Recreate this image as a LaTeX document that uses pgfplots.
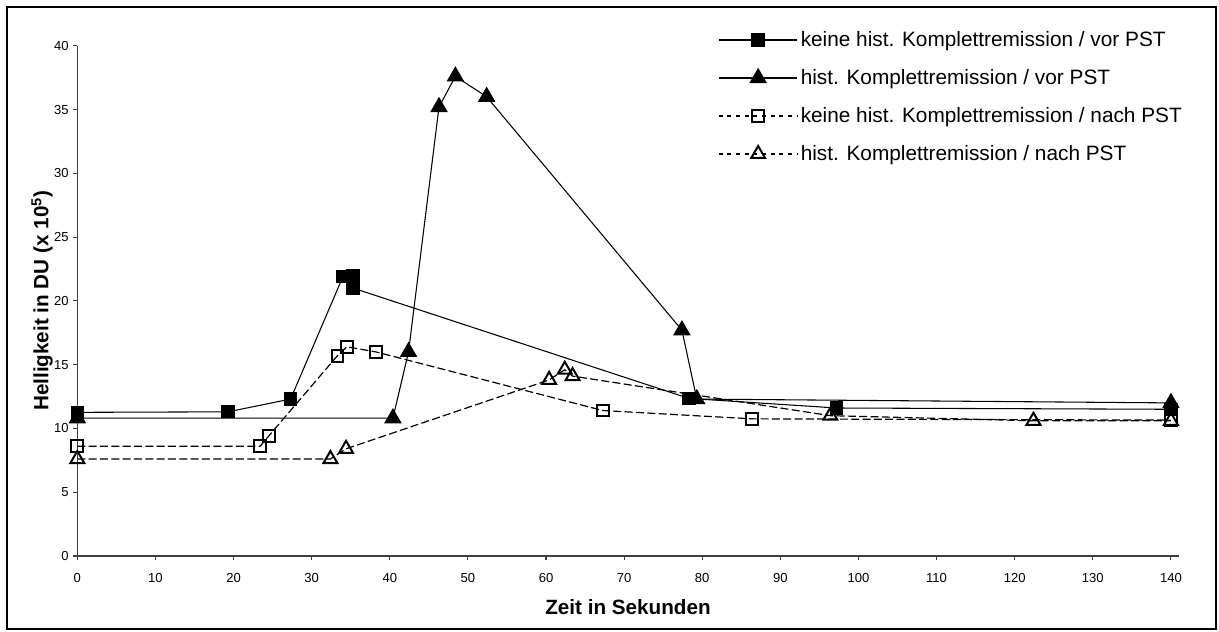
\documentclass[border=0pt]{standalone}
\usepackage{fontspec}
\setmainfont{Liberation Sans}
\usepackage{pgfplots}
\pgfplotsset{compat=1.18}
\begin{document}
\begin{tikzpicture}
\useasboundingbox (-58pt,-57pt) rectangle (856.3pt,417pt);
\draw[line width=1.5pt] (-52.7pt,-54.75pt) rectangle (854pt,411.75pt);
\begin{axis}[
  at={(0pt,0pt)}, anchor=south west,
  scale only axis, width=826.1pt, height=382.7pt,
  xmin=0, xmax=141, ymin=0, ymax=40,
  axis lines*=left,
  axis line style={line width=1pt, black!75},
  xtick={0,10,...,140}, ytick={0,5,...,40},
  tick align=outside, major tick length=3pt,
  tick style={line width=0.8pt, black!75},
  /pgf/number format/assume math mode=true,
  ticklabel style={font=\fontsize{9.8}{11}\selectfont},
  xticklabel style={yshift=-6.5pt},
  label style={font=\bfseries\fontsize{15.5}{18}\selectfont},
  xlabel={Zeit in Sekunden},
  ylabel={Helligkeit in DU (x 10\textsuperscript{5})},
  xlabel style={at={(axis description cs:0.5,0)}, anchor=center, yshift=-38pt},
  ylabel style={at={(axis description cs:0,0.5)}, anchor=center, yshift=26.5pt},
  legend style={at={(rel axis cs:0.578,1.039)}, anchor=north west, draw=none, fill=none,
    font=\fontsize{15.6}{18}\selectfont, row sep=11.7pt, cells={anchor=west}},
  legend cell align=left,
  legend image code/.code={\draw[mark repeat=2,mark phase=2] plot coordinates {(0pt,0pt)(29.5pt,0pt)(59pt,0pt)};},
]
\addplot[black, line width=0.8pt, mark=square*, mark size=4.6pt, mark options={solid, fill=black}] coordinates {
(0,11.26) (19.3,11.3) (27.3,12.3) (34.0,21.9) (35.3,22.0) (35.3,21.0) (78.3,12.35) (97.2,11.6) (140,11.5)};
\addlegendentry{keine hist. Komplettremission / vor PST}
\addplot[black, line width=0.8pt, mark=triangle*, mark size=6.8pt, mark options={solid, fill=black}] coordinates {
(0,10.8) (40.4,10.8) (42.4,16.0) (46.3,35.2) (48.4,37.6) (52.4,36.0) (77.4,17.7) (79.3,12.3) (140,12.0)};
\addlegendentry{hist. Komplettremission / vor PST}
\addplot[black, line width=0.9pt, dash pattern=on 6pt off 2.5pt, mark=square, mark size=4.4pt, mark options={solid, fill=white, line width=1.5pt},
  legend image code/.code={\draw[dash pattern=on 3pt off 3.5pt] (0pt,0pt) -- (59pt,0pt); \draw[solid] plot coordinates {(29.5pt,0pt)};}] coordinates {
(0,8.6) (23.4,8.6) (24.5,9.4) (33.3,15.7) (34.5,16.4) (38.2,16.0) (67.3,11.4) (86.4,10.75) (140,10.65)};
\addlegendentry{keine hist. Komplettremission / nach PST}
\addplot[black, line width=0.9pt, dash pattern=on 6pt off 2.5pt, mark=triangle, mark size=6pt, mark options={solid, fill=white, line width=1.5pt},
  legend image code/.code={\draw[dash pattern=on 3pt off 3.5pt] (0pt,0pt) -- (59pt,0pt); \draw[solid] plot coordinates {(29.5pt,0pt)};}] coordinates {
(0,7.6) (32.4,7.6) (34.4,8.4) (60.4,13.8) (62.4,14.6) (63.4,14.1) (96.4,11.0) (122.4,10.6) (140,10.6)};
\addlegendentry{hist. Komplettremission / nach PST}
\end{axis}
\end{tikzpicture}
\end{document}
